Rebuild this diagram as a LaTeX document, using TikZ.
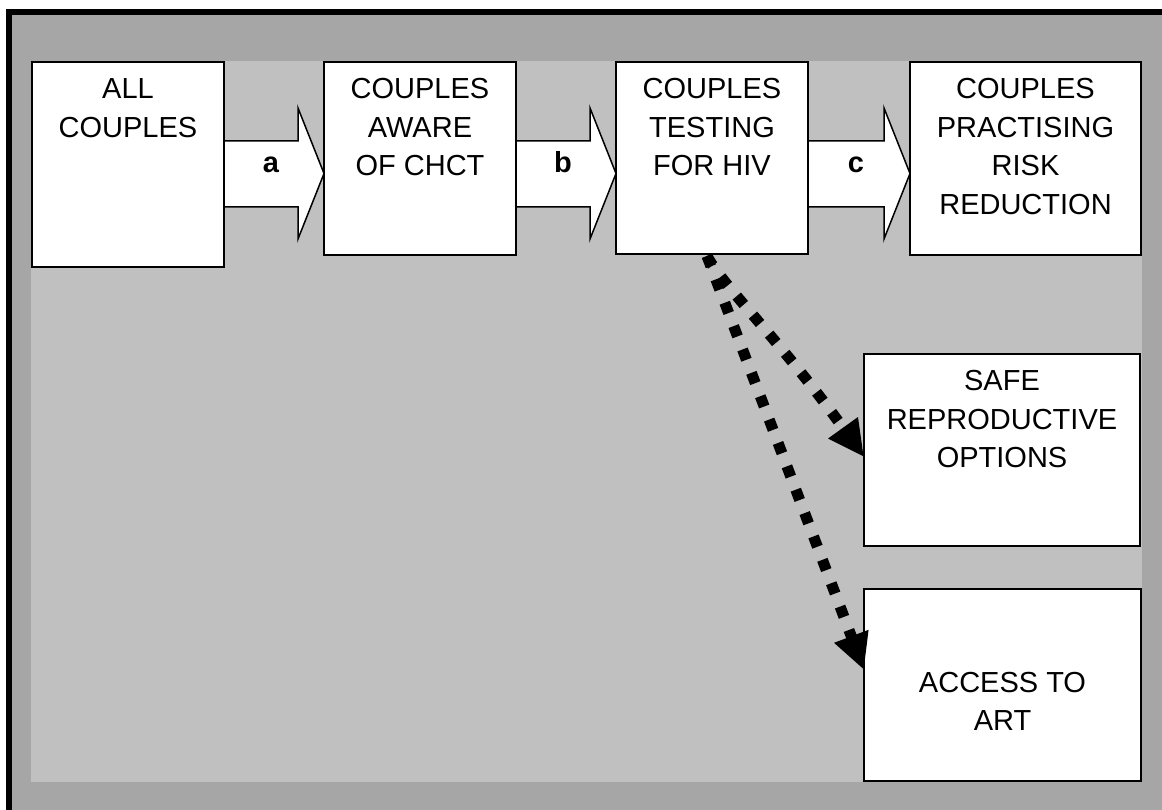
\documentclass[tikz,border=0pt]{standalone}
\usepackage{fontspec}
\setmainfont{Liberation Sans}
\usetikzlibrary{calc,arrows.meta}
\definecolor{outergray}{HTML}{A6A6A6}
\definecolor{innergray}{HTML}{C0C0C0}
\pgfdeclarelayer{backdrop}
\pgfdeclarelayer{arrowlayer}
\pgfsetlayers{backdrop,arrowlayer,main}

\tikzset{
  box/.style={draw, line width=2pt, fill=white, rectangle, inner sep=0pt,
    outer sep=0pt, anchor=north west},
  boxtext/.style={anchor=north, align=center, inner sep=0pt,
    font=\fontsize{29}{38.5}\selectfont},
  barrow/.style={draw, fill=white, line width=1.5pt, line join=miter},
  steplabel/.style={anchor=base, inner sep=0pt,
    font=\fontsize{29}{35}\selectfont\bfseries},
  dotlink/.style={line width=11pt, dash pattern=on 11pt off 14pt,
    -{Triangle[length=36pt,width=34pt]}},
}

% wide block arrow from the east side of #1 to the west side of #2, labelled #3
\newcommand\blockarrow[3]{%
  \begin{pgfonlayer}{arrowlayer}
  \draw[barrow] (#1.east |- 0,141) -- ($(#2.west |- 0,141)+(-26,0)$)
    -- ($(#2.west |- 0,108)+(-26,0)$) -- (#2.west |- 0,173.5)
    -- ($(#2.west |- 0,239)+(-26,0)$) -- ($(#2.west |- 0,207)+(-26,0)$)
    -- (#1.east |- 0,207);
  \end{pgfonlayer}
  \node[steplabel, xshift=-3pt] (lbl#3) at ($(#1.east |- 0,173)!0.5!(#2.west |- 0,173)$) {#3};
}

\begin{document}
\begin{tikzpicture}[x=1pt, y=-1pt]
  \useasboundingbox (0,0) rectangle (1162,810);

  % frame and panels
  \begin{pgfonlayer}{backdrop}
    \fill[white] (0,0) rectangle (1162,810);
    \fill[outergray] (6,9) rectangle (1162,810);
    \fill[black] (6,9) rectangle (1162,15);
    \fill[black] (6,9) rectangle (12,810);
    \fill[innergray] (31,61) rectangle (1142,782);
  \end{pgfonlayer}

  % stages
  \node[box, minimum width=192pt, minimum height=205pt] (b1) at (32,62) {};
  \node[box, minimum width=192pt, minimum height=193pt] (b2) at (324,62) {};
  \node[box, minimum width=192pt, minimum height=192pt] (b3) at (616,62) {};
  \node[box, minimum width=231pt, minimum height=193pt] (b4) at (910,62) {};
  \node[box, minimum width=276pt, minimum height=192pt] (b5) at (864,354) {};
  \node[box, minimum width=277pt, minimum height=192pt] (b6) at (864,589) {};

  \node[boxtext] (t1) at ($(b1.north)+(0,16.5)$) {ALL\\COUPLES};
  \node[boxtext] (t2) at ($(b2.north)+(0,16.5)$) {COUPLES\\AWARE\\OF CHCT};
  \node[boxtext] (t3) at ($(b3.north)+(0,16.5)$) {COUPLES\\TESTING\\FOR HIV};
  \node[boxtext] (t4) at ($(b4.north)+(0,16.5)$) {COUPLES\\PRACTISING\\RISK\\REDUCTION};
  \node[boxtext] (t5) at ($(b5.north)+(0,16.5)$) {SAFE\\REPRODUCTIVE\\OPTIONS};
  \node[boxtext] (t6) at ($(b6.north)+(0,83)$) {ACCESS TO\\ART};

  % main sequence
  \blockarrow{b1}{b2}{a}
  \blockarrow{b2}{b3}{b}
  \blockarrow{b3}{b4}{c}

  % branches from testing
  \draw[dotlink] ($(b3.south)+(-5,2)$) .. controls (722,285) and (780,340) .. ($(b5.west)+(0,7)$);
  \draw[dotlink] ($(b3.south)+(-5,2)$) .. controls (718,285) and (815,540) .. ($(b6.west)+(0,-15)$);
\end{tikzpicture}
\end{document}
